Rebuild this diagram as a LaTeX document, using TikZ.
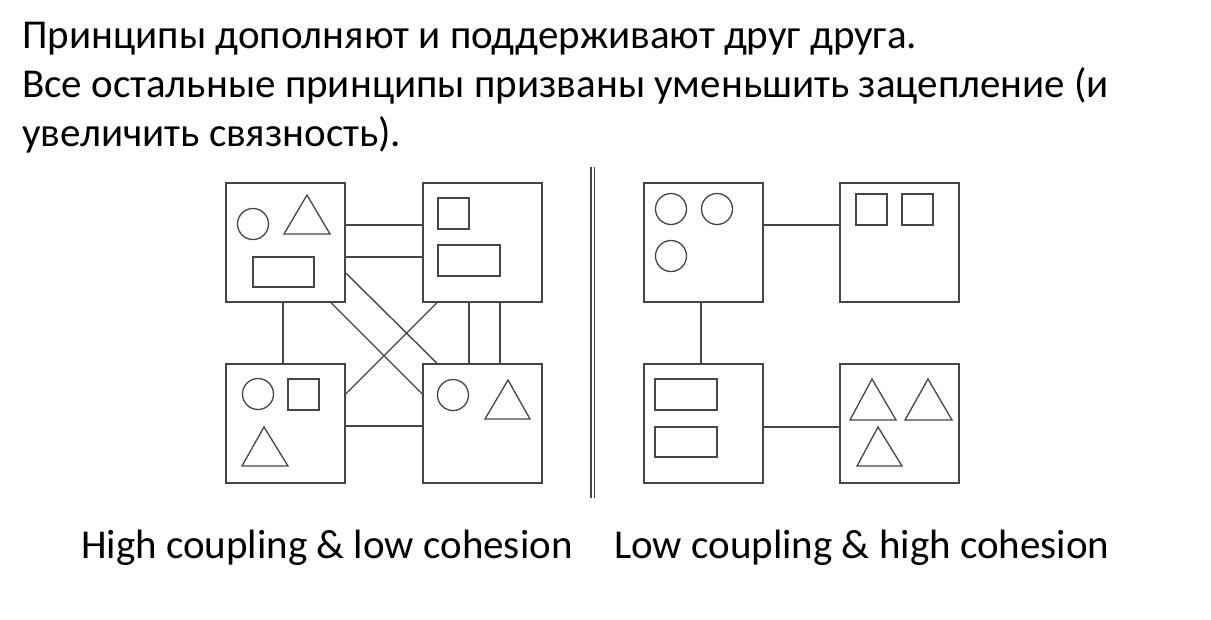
\documentclass[tikz,border=0pt]{standalone}
\usepackage{fontspec}
\setmainfont{Carlito}
\definecolor{ln}{RGB}{70,70,70}
\begin{document}
\begin{tikzpicture}[x=1pt,y=-1pt,
  box/.style={draw=ln,line width=1.5pt,minimum size=119pt,inner sep=0pt,fill=white},
  conn/.style={draw=ln,line width=1.4pt},
  shp/.style={draw=ln,line width=1.3pt},
  txt/.style={anchor=base west,inner sep=0pt,font=\fontsize{41pt}{49pt}\selectfont},
  captxt/.style={anchor=base west,inner sep=0pt,font=\fontsize{41pt}{49pt}\selectfont}]
\useasboundingbox (0,0) rectangle (1211,619);
\fill[white] (0,0) rectangle (1211,619);
% title text
\node[txt] (t1) at (22,48) {Принципы дополняют и поддерживают друг друга.};
\node[txt] (t2) at (22,97) {Все остальные принципы призваны уменьшить зацепление (и};
\node[txt] (t3) at (22,146) {увеличить связность).};
% left boxes
\node[box] (A) at (285.5,242.5) {};
\node[box] (B) at (482.5,242.5) {};
\node[box] (C) at (285.5,423.5) {};
\node[box] (D) at (482.5,423.5) {};
% left connectors
\draw[conn] ([yshift=17.5pt]A.east) -- ([yshift=17.5pt]B.west);
\draw[conn] ([yshift=-14.5pt]A.east) -- ([yshift=-14.5pt]B.west);
\draw[conn] ([xshift=-2.5pt]A.south) -- ([xshift=-2.5pt]C.north);
\draw[conn] ([yshift=-2.5pt]C.east) -- ([yshift=-2.5pt]D.west);
\draw[conn] ([xshift=-13.5pt]B.south) -- ([xshift=-13.5pt]D.north);
\draw[conn] ([xshift=17.5pt]B.south) -- ([xshift=17.5pt]D.north);
\draw[conn] ([yshift=-30.5pt]A.east) -- ([xshift=-45.5pt]D.north);
\draw[conn] ([xshift=45.5pt]A.south) -- ([yshift=29.5pt]D.west);
\draw[conn] ([xshift=-45.5pt]B.south) -- ([yshift=29.5pt]C.east);
% left shapes
\draw[shp] (253,224) circle (15.5);
\draw[shp] (307,195) -- (284,234) -- (330,234) -- cycle;
\draw[shp] (253,257) rectangle (314,287);
\draw[shp] (438,198) rectangle (469,229);
\draw[shp] (438,245) rectangle (500,276);
\draw[shp] (258,394) circle (15.5);
\draw[shp] (288,379) rectangle (319,410);
\draw[shp] (264,427) -- (242,466) -- (288,466) -- cycle;
\draw[shp] (453,395) circle (15.5);
\draw[shp] (508,380) -- (485,419) -- (530,419) -- cycle;
% separator
\coordinate (s1) at (591,167);
\coordinate (s2) at (591,498);
\coordinate (s3) at (594.5,167);
\coordinate (s4) at (594.5,498);
\draw[ln,line width=1.3pt] (s1) -- (s2);
\draw[ln,line width=1.3pt] (s3) -- (s4);
% right boxes
\node[box] (E) at (703.5,242.5) {};
\node[box] (F) at (899.5,242.5) {};
\node[box] (G) at (703.5,423.5) {};
\node[box] (H) at (899.5,423.5) {};
\draw[conn] ([yshift=17.5pt]E.east) -- ([yshift=17.5pt]F.west);
\draw[conn] ([xshift=-2.5pt]E.south) -- ([xshift=-2.5pt]G.north);
\draw[conn] ([yshift=-3.5pt]G.east) -- ([yshift=-3.5pt]H.west);
% right shapes
\draw[shp] (671,209) circle (15.5);
\draw[shp] (717,209) circle (15.5);
\draw[shp] (671,256) circle (15.5);
\draw[shp] (856,194) rectangle (887,225);
\draw[shp] (902,194) rectangle (933,225);
\draw[shp] (655,379) rectangle (717,410);
\draw[shp] (655,427) rectangle (717,457);
\draw[shp] (872,379) -- (850,420) -- (896,420) -- cycle;
\draw[shp] (928,379) -- (905,420) -- (952,420) -- cycle;
\draw[shp] (878,427) -- (857,466) -- (902,466) -- cycle;
% captions
\node[captxt] (c1) at (81,558) {High coupling \& low cohesion};
\node[captxt] (c2) at (614,558) {Low coupling \& high cohesion};
\end{tikzpicture}
\end{document}
